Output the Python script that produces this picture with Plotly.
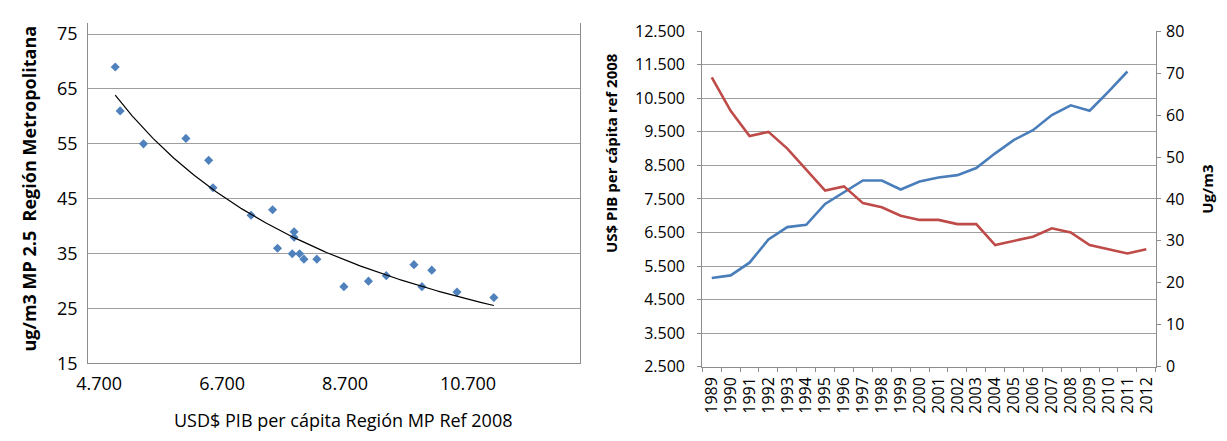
import numpy as np
import plotly.graph_objects as go

# Annual series, Región Metropolitana
years = ["1989", "1990", "1991", "1992", "1993", "1994", "1995", "1996",
         "1997", "1998", "1999", "2000", "2001", "2002", "2003", "2004",
         "2005", "2006", "2007", "2008", "2009", "2010", "2011", "2012"]
pib_per_capita = [5140, 5220, 5600, 6290, 6660, 6730, 7350, 7700,
                  8050, 8050, 7780, 8020, 8140, 8210, 8420, 8860,
                  9260, 9550, 10000, 10290, 10130, 10700, 11300, None]
mp25 = [69, 61, 55, 56, 52, 47, 42, 43,
        39, 38, 36, 35, 35, 34, 34, 29,
        30, 31, 33, 32, 29, 28, 27, 28]

# Tick labels
scatter_x_ticks = [4700, 6700, 8700, 10700]
scatter_y_ticks = [15, 25, 35, 45, 55, 65, 75]
pib_ticks = [2500, 3500, 4500, 5500, 6500, 7500, 8500, 9500, 10500, 11500, 12500]
mp_ticks = [0, 10, 20, 30, 40, 50, 60, 70, 80]

BLUE = "#4A7EBB"
RED = "#BE4B48"
MARKER = "#4F81BD"
GRID = "#9e9e9e"
AXIS = "#8c8c8c"
FONT = "Open Sans"

# pairs of years that have both values
pairs = [(g, p) for g, p in zip(pib_per_capita, mp25) if g is not None]
sx = np.array([g for g, _ in pairs], dtype=float)
sy = np.array([p for _, p in pairs], dtype=float)

# power trendline y = a * x^b (least squares on log-log)
b, ln_a = np.polyfit(np.log(sx), np.log(sy), 1)
tx = np.linspace(sx.min(), sx.max(), 200)
ty = np.exp(ln_a) * tx ** b

fig = go.Figure()

fig.add_trace(go.Scatter(
    x=sx, y=sy, mode="markers", xaxis="x", yaxis="y",
    marker=dict(symbol="diamond", size=7, color=MARKER, line=dict(width=0)),
    showlegend=False, hoverinfo="x+y"))
fig.add_trace(go.Scatter(
    x=tx, y=ty, mode="lines", xaxis="x", yaxis="y",
    line=dict(color="black", width=1.2), showlegend=False, hoverinfo="skip"))

fig.add_trace(go.Scatter(
    x=years, y=pib_per_capita, mode="lines", xaxis="x2", yaxis="y2",
    line=dict(color=BLUE, width=2.6), showlegend=False,
    name="US$ PIB per cápita"))
fig.add_trace(go.Scatter(
    x=years, y=mp25, mode="lines", xaxis="x2", yaxis="y3",
    line=dict(color=RED, width=2.6), showlegend=False, name="Ug/m3"))

W, H = 1227, 441

fig.update_layout(
    width=W, height=H,
    margin=dict(l=0, r=0, t=0, b=0),
    paper_bgcolor="white", plot_bgcolor="white",
    separators=",.",
    font=dict(family=FONT, color="black"),
    xaxis=dict(
        domain=[77 / W, 574 / W], anchor="y",
        range=[4700, 12700], tickvals=scatter_x_ticks, tickformat=",",
        showgrid=False, zeroline=False, showline=True, linecolor=AXIS,
        linewidth=1.2, ticks="", tickfont=dict(size=18, family=FONT),
        ticklabelshift=11, ticklabelstandoff=4),
    yaxis=dict(
        domain=[1 - 371 / H, 1 - 12.7 / H], anchor="x",
        range=[15, 77], tickvals=scatter_y_ticks,
        showgrid=True, gridcolor=GRID, gridwidth=1.2, zeroline=False,
        showline=True, mirror=True, linecolor=AXIS, linewidth=1.2,
        ticks="", tickfont=dict(size=18, family=FONT),
        ticklabelstandoff=6),
    xaxis2=dict(
        domain=[697.7 / W, 1156 / W], anchor="y2", type="category",
        range=[-0.5, 23.5], tickmode="array", tickvals=years,
        ticktext=years, tickangle=-90, tickson="boundaries",
        ticks="outside", ticklen=4, tickcolor=AXIS,
        showgrid=False, showline=True, linecolor=AXIS, linewidth=1.2,
        tickfont=dict(size=16, family=FONT), ticklabelstandoff=3),
    yaxis2=dict(
        domain=[1 - 374.3 / H, 1 - 21.3 / H], anchor="x2",
        range=[2500, 12500], tickvals=pib_ticks, tickformat=",",
        showgrid=True, gridcolor=GRID, gridwidth=1.2, zeroline=False,
        showline=True, linecolor=AXIS, linewidth=1.2,
        ticks="outside", ticklen=4, tickcolor=AXIS,
        tickfont=dict(size=16, family=FONT), ticklabelstandoff=9),
    yaxis3=dict(
        domain=[1 - 374.3 / H, 1 - 21.3 / H], anchor="x2",
        overlaying="y2", side="right",
        range=[0, 80], tickvals=mp_ticks,
        showgrid=False, zeroline=False,
        showline=True, linecolor=AXIS, linewidth=1.2,
        ticks="outside", ticklen=4, tickcolor=AXIS,
        tickfont=dict(size=16, family=FONT), ticklabelstandoff=2),
)

# axis titles
titles = [
    dict(text="ug/m3 MP 2.5  Región Metropolitana", x=17, y=187, angle=-90,
         size=18, bold=True),
    dict(text="USD$ PIB per cápita Región MP Ref 2008", x=335, y=430, angle=0,
         size=18, bold=False),
    dict(text="US$ PIB per cápita ref 2008", x=605, y=150, angle=-90,
         size=15, bold=True),
    dict(text="Ug/m3", x=1207, y=188, angle=-90, size=15, bold=True),
]
for t in titles:
    fig.add_annotation(
        text=t["text"], x=t["x"] / W, y=1 - t["y"] / H,
        xref="paper", yref="paper", xanchor="center", yanchor="middle",
        textangle=t["angle"], showarrow=False,
        font=dict(family=FONT, size=t["size"], color="black",
                  weight="bold" if t["bold"] else "normal"))

fig.write_html("out.html")
